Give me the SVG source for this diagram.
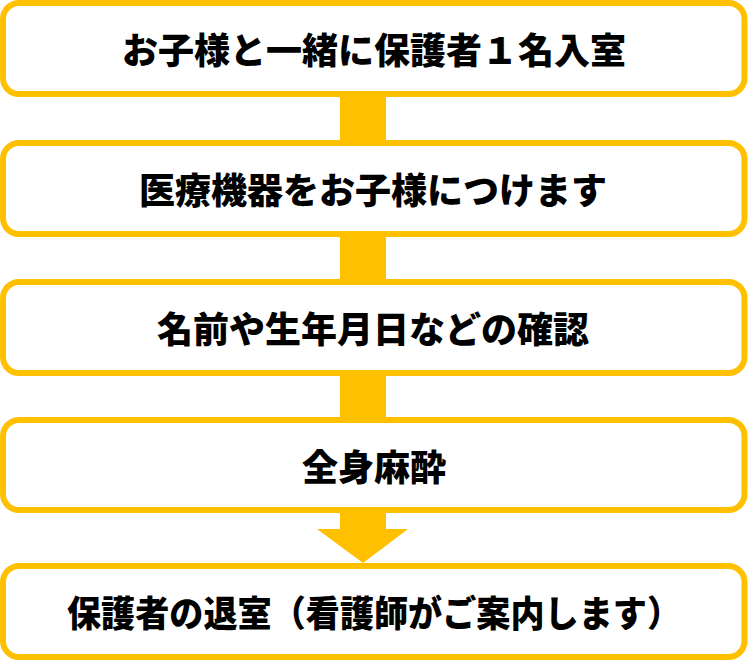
<svg xmlns="http://www.w3.org/2000/svg" width="748" height="661" viewBox="0 0 748 661">
<style>
.box{fill:#FFFFFF;stroke:#FFC000;stroke-width:6}
.lbl{font-family:"Noto Sans CJK JP","Noto Sans CJK SC",sans-serif;font-weight:900;font-size:36px;fill:#000000;text-anchor:middle;dominant-baseline:central}
.conn{fill:#FFC000}
</style>
<rect width="748" height="661" fill="#FFFFFF"/>
<g id="connectors">
<rect class="conn" x="340" y="96" width="46" height="46"/>
<rect class="conn" x="340" y="236" width="46" height="45"/>
<rect class="conn" x="340" y="375" width="46" height="44"/>
<path class="conn" d="M340,512 H386 V529 H408 L363,563 L317,529 H340 Z"/>
</g>
<g id="node1">
<rect class="box" x="3" y="3" width="741.5" height="91" rx="16"/>
<text class="lbl" x="374" y="48">お子様と一緒に保護者１名入室</text>
</g>
<g id="node2">
<rect class="box" x="3" y="143" width="741.5" height="91" rx="16"/>
<text class="lbl" x="373" y="188">医療機器をお子様につけます</text>
</g>
<g id="node3">
<rect class="box" x="3" y="282" width="741.5" height="91" rx="16"/>
<text class="lbl" x="373" y="327">名前や生年月日などの確認</text>
</g>
<g id="node4">
<rect class="box" x="3" y="420" width="741.5" height="90" rx="16"/>
<text class="lbl" x="374" y="465">全身麻酔</text>
</g>
<g id="node5">
<rect class="box" x="3" y="566" width="741.5" height="91" rx="16"/>
<text class="lbl" x="374" y="611" textLength="614" lengthAdjust="spacingAndGlyphs">保護者の退室（看護師がご案内します）</text>
</g>
</svg>
